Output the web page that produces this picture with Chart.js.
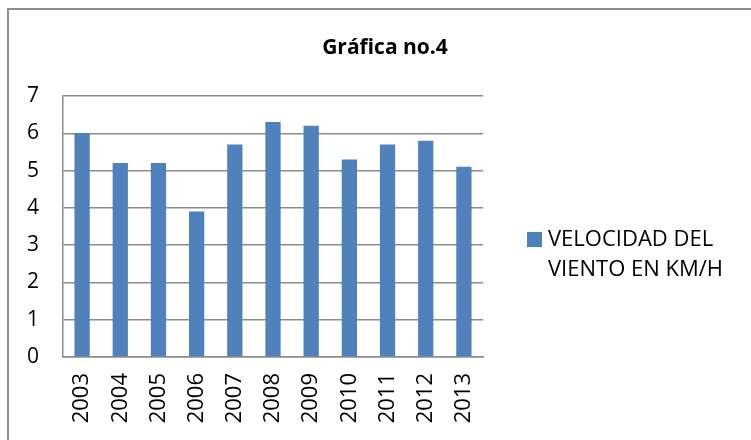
<!DOCTYPE html>
<html>
<head>
<meta charset="utf-8">
<script src="https://cdn.jsdelivr.net/npm/chart.js@4"></script>
<style>
  body { margin: 0; background: #fff; }
  #frame { position: absolute; left: 7px; top: 8px; width: 800px; height: 500px;
           border-top: 2px solid #8c8c8c; border-left: 2px solid #8c8c8c; }
  #wrap { position: absolute; left: 0; top: 0; width: 751px; height: 440px; }
</style>
</head>
<body>
<div id="frame"></div>
<div id="wrap"><canvas id="myChart" width="751" height="440"></canvas></div>
<script>
const years = ["2003", "2004", "2005", "2006", "2007", "2008", "2009", "2010", "2011", "2012", "2013"];
const windSpeed = [6.0, 5.2, 5.2, 3.9, 5.7, 6.3, 6.2, 5.3, 5.7, 5.8, 5.1];
const seriesName = "VELOCIDAD DEL VIENTO EN KM/H";
const titleText = "Gráfica no.4";

const fontName = "'Open Sans', sans-serif";

// title and wrapped legend drawn by hand
const extras = {
  id: "extras",
  afterDraw(chart) {
    const ctx = chart.ctx;
    ctx.save();
    ctx.fillStyle = "#000";
    ctx.font = "bold 21px " + fontName;
    ctx.textAlign = "center";
    ctx.textBaseline = "middle";
    ctx.fillText(titleText, 385, 48);

    const ds = chart.data.datasets[0];
    ctx.fillStyle = ds.backgroundColor;
    ctx.fillRect(527, 232, 15, 15);
    ctx.fillStyle = "#000";
    ctx.font = "22px " + fontName;
    ctx.textAlign = "left";
    ctx.fillText("VELOCIDAD DEL", 548, 240);
    ctx.fillText("VIENTO EN KM/H", 548, 270);
    ctx.restore();
  }
};

let ctx = document.getElementById("myChart").getContext("2d");
new Chart(ctx, {
  type: "bar",
  data: {
    labels: years,
    datasets: [
      {
        label: seriesName,
        data: windSpeed,
        backgroundColor: "#4f81bd",
        barPercentage: 0.4,
        categoryPercentage: 1.0,
      },
    ],
  },
  options: {
    responsive: false,
    animation: false,
    layout: { padding: { left: 0, right: 268, top: 96, bottom: 0 } },
    plugins: { legend: { display: false }, tooltip: { enabled: false } },
    scales: {
      x: {
        grid: { display: false, drawTicks: false },
        border: { color: "#8c8c8c", width: 1.5 },
        ticks: { color: "#000", font: { family: fontName, size: 22 }, minRotation: 90, maxRotation: 90, padding: 16 },
        afterFit: (s) => { s.height = 83; },
      },
      y: {
        min: 0,
        max: 7,
        ticks: { stepSize: 1, color: "#000", font: { family: fontName, size: 21 }, padding: 24 },
        grid: { color: "#8c8c8c", lineWidth: 1.5, drawTicks: false },
        border: { color: "#8c8c8c", width: 1.5 },
        afterFit: (s) => { s.width = 63; },
      },
    },
  },
  plugins: [extras],
});
</script>
</body>
</html>
